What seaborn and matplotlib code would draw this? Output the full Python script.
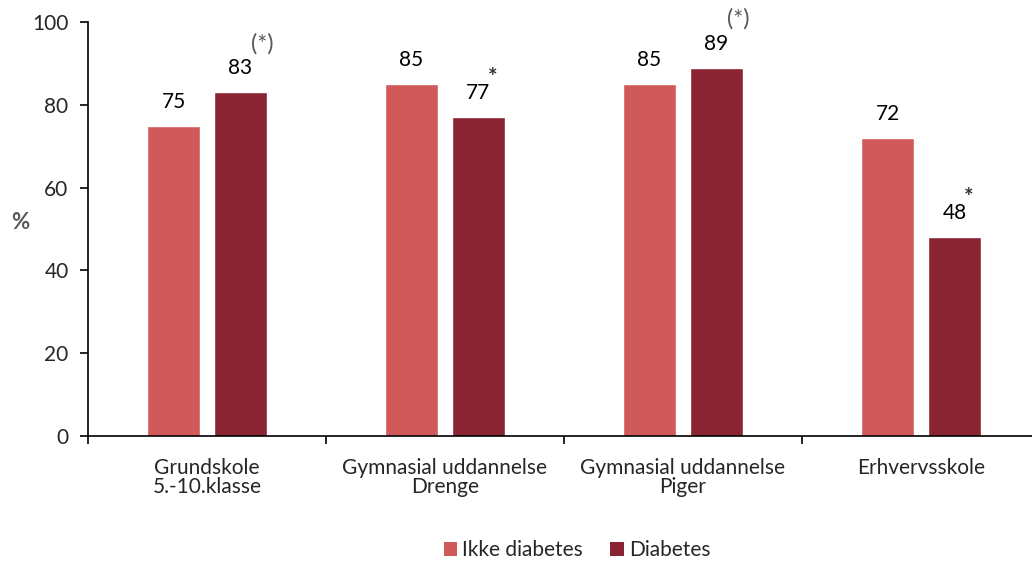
import matplotlib
matplotlib.use("Agg")
import matplotlib.pyplot as plt
import seaborn as sns
import pandas as pd
from matplotlib.patches import Patch

# Data
categories = ["Grundskole\n5.-10.klasse", "Gymnasial uddannelse\nDrenge",
              "Gymnasial uddannelse\nPiger", "Erhvervsskole"]
groups = ["Ikke diabetes", "Diabetes"]
ikke_diabetes = [75, 85, 85, 72]
diabetes = [83, 77, 89, 48]
diabetes_marks = ["(*)", "*", "(*)", "*"]
y_ticks = [0, 20, 40, 60, 80, 100]

colors = ["#D05A59", "#8A2432"]
grey = "#595959"

df = pd.DataFrame({
    "kategori": categories * 2,
    "gruppe": [groups[0]] * 4 + [groups[1]] * 4,
    "pct": ikke_diabetes + diabetes,
})

sns.set_style("white")
plt.rcParams["font.family"] = ["Lato", "DejaVu Sans"]

fig = plt.figure(figsize=(10.32, 5.66), dpi=100)
ax = fig.add_axes([88 / 1032, 1 - 436 / 566, 952 / 1032, 414 / 566])

sns.barplot(data=df, x="kategori", y="pct", hue="gruppe", order=categories,
            hue_order=groups, palette=colors, width=0.563, gap=0.21,
            saturation=1, ax=ax, legend=False)

ax.set_xlim(-0.5, 3.5)
ax.set_ylim(0, 100)
ax.set_yticks(y_ticks)
ax.set_xlabel("")
ax.set_ylabel("%", rotation=0, fontsize=16, color=grey, fontweight="bold")
ax.yaxis.set_label_coords(-0.071, 0.49)

for s in ["top", "right"]:
    ax.spines[s].set_visible(False)
for s in ["left", "bottom"]:
    ax.spines[s].set_color("black")
    ax.spines[s].set_linewidth(1.2)

ax.tick_params(axis="y", direction="out", length=6, width=1.2, color="black",
               labelsize=15, pad=8, left=True)
ax.tick_params(axis="x", which="major", length=0, labelsize=15, pad=16)
ax.set_xticks([-0.5, 0.5, 1.5, 2.5], minor=True)
ax.tick_params(axis="x", which="minor", direction="out", length=6, width=1.2,
               color="black", bottom=True)
for lab in ax.get_xticklabels():
    lab.set_linespacing(0.95)

# Value labels above each bar, with significance marks on the diabetes bars
for ci, container in enumerate(ax.containers):
    values = ikke_diabetes if ci == 0 else diabetes
    for i, (bar, v) in enumerate(zip(container, values)):
        x = bar.get_x() + bar.get_width() / 2
        ax.annotate(f"{v}", (x, v), xytext=(0, 18), textcoords="offset pixels",
                    ha="center", va="baseline", fontsize=15, color="black")
        if ci == 1:
            mark = diabetes_marks[i]
            if mark.startswith("("):
                ax.annotate(mark, (x, v), xytext=(11, 42), textcoords="offset pixels",
                            ha="left", va="baseline", fontsize=17, color=grey)
            else:
                ax.annotate(mark, (x, v), xytext=(9, 33), textcoords="offset pixels",
                            ha="left", va="baseline", fontsize=16, color="#333333",
                            fontweight="bold")

handles = [Patch(facecolor=c, edgecolor="none") for c in colors]
fig.legend(handles, groups, loc="center", bbox_to_anchor=(577 / 1032, 1 - 550 / 566),
           ncol=2, frameon=False, fontsize=15, handlelength=0.65, handleheight=0.65,
           handletextpad=0.25, columnspacing=1.3)

fig.savefig("out.png", dpi=100)
